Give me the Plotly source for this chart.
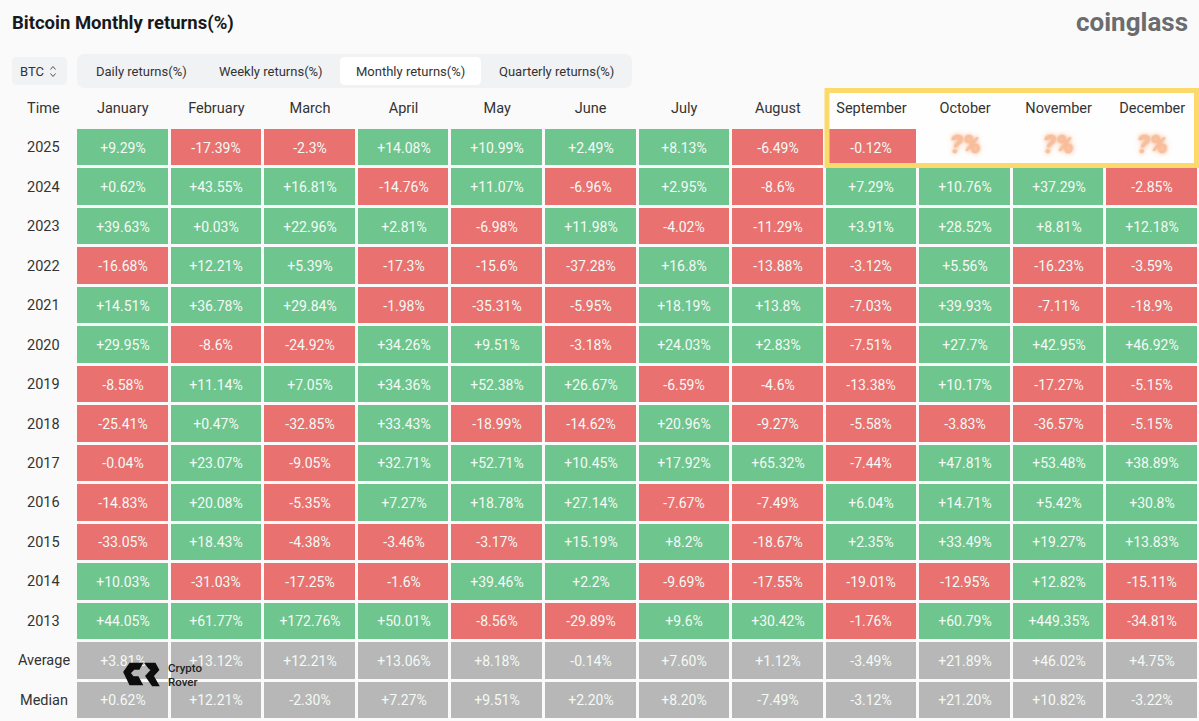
import plotly.graph_objects as go

TITLE = "Bitcoin Monthly returns(%)"
MONTHS = ["January", "February", "March", "April", "May", "June", "July", "August",
          "September", "October", "November", "December"]
ROW_LABELS = ["2025", "2024", "2023", "2022", "2021", "2020", "2019", "2018", "2017",
              "2016", "2015", "2014", "2013", "Average", "Median"]
TABS = ["Daily returns(%)", "Weekly returns(%)", "Monthly returns(%)", "Quarterly returns(%)"]

R2025 = ["+9.29%", "-17.39%", "-2.3%", "+14.08%", "+10.99%", "+2.49%", "+8.13%", "-6.49%", "-0.12%", "", "", ""]
R2024 = ["+0.62%", "+43.55%", "+16.81%", "-14.76%", "+11.07%", "-6.96%", "+2.95%", "-8.6%", "+7.29%", "+10.76%", "+37.29%", "-2.85%"]
R2023 = ["+39.63%", "+0.03%", "+22.96%", "+2.81%", "-6.98%", "+11.98%", "-4.02%", "-11.29%", "+3.91%", "+28.52%", "+8.81%", "+12.18%"]
R2022 = ["-16.68%", "+12.21%", "+5.39%", "-17.3%", "-15.6%", "-37.28%", "+16.8%", "-13.88%", "-3.12%", "+5.56%", "-16.23%", "-3.59%"]
R2021 = ["+14.51%", "+36.78%", "+29.84%", "-1.98%", "-35.31%", "-5.95%", "+18.19%", "+13.8%", "-7.03%", "+39.93%", "-7.11%", "-18.9%"]
R2020 = ["+29.95%", "-8.6%", "-24.92%", "+34.26%", "+9.51%", "-3.18%", "+24.03%", "+2.83%", "-7.51%", "+27.7%", "+42.95%", "+46.92%"]
R2019 = ["-8.58%", "+11.14%", "+7.05%", "+34.36%", "+52.38%", "+26.67%", "-6.59%", "-4.6%", "-13.38%", "+10.17%", "-17.27%", "-5.15%"]
R2018 = ["-25.41%", "+0.47%", "-32.85%", "+33.43%", "-18.99%", "-14.62%", "+20.96%", "-9.27%", "-5.58%", "-3.83%", "-36.57%", "-5.15%"]
R2017 = ["-0.04%", "+23.07%", "-9.05%", "+32.71%", "+52.71%", "+10.45%", "+17.92%", "+65.32%", "-7.44%", "+47.81%", "+53.48%", "+38.89%"]
R2016 = ["-14.83%", "+20.08%", "-5.35%", "+7.27%", "+18.78%", "+27.14%", "-7.67%", "-7.49%", "+6.04%", "+14.71%", "+5.42%", "+30.8%"]
R2015 = ["-33.05%", "+18.43%", "-4.38%", "-3.46%", "-3.17%", "+15.19%", "+8.2%", "-18.67%", "+2.35%", "+33.49%", "+19.27%", "+13.83%"]
R2014 = ["+10.03%", "-31.03%", "-17.25%", "-1.6%", "+39.46%", "+2.2%", "-9.69%", "-17.55%", "-19.01%", "-12.95%", "+12.82%", "-15.11%"]
R2013 = ["+44.05%", "+61.77%", "+172.76%", "+50.01%", "-8.56%", "-29.89%", "+9.6%", "+30.42%", "-1.76%", "+60.79%", "+449.35%", "-34.81%"]
AVERAGE = ["+3.81%", "+13.12%", "+12.21%", "+13.06%", "+8.18%", "-0.14%", "+7.60%", "+1.12%", "-3.49%", "+21.89%", "+46.02%", "+4.75%"]
MEDIAN = ["+0.62%", "+12.21%", "-2.30%", "+7.27%", "+9.51%", "+2.20%", "+8.20%", "-7.49%", "-3.12%", "+21.20%", "+10.82%", "-3.22%"]
ROWS = [R2025, R2024, R2023, R2022, R2021, R2020, R2019, R2018, R2017, R2016, R2015, R2014, R2013, AVERAGE, MEDIAN]

GREEN, RED, GRAY = "#6fc58e", "#e9716f", "#b7b7b7"
BG = "#fafafa"
FONT = "Roboto"
W, H = 1199, 721
L, T, B = 76, 128, 1

# page pixels to paper coords, for the furniture around the table
def fx(px):
  return (px - L) / (W - L)

def fy(py):
  return 1 - (py - T) / (H - T - B)

def cell_code(label, row_name):
  if not label:
    return None
  if row_name in ("Average", "Median"):
    return 0
  return 2 if label.startswith("+") else 1

z = [[cell_code(v, name) for v in row] for row, name in zip(ROWS, ROW_LABELS)]

def rounded(x0, y0, x1, y1, r):
  a0, a1 = fx(x0), fx(x1)
  b0, b1 = fy(y0), fy(y1)
  rx, ry = r / (W - L), r / (H - T - B)
  return (f"M{a0 + rx},{b0} L{a1 - rx},{b0} Q{a1},{b0} {a1},{b0 - ry} L{a1},{b1 + ry} Q{a1},{b1} {a1 - rx},{b1} "
          f"L{a0 + rx},{b1} Q{a0},{b1} {a0},{b1 + ry} L{a0},{b0 - ry} Q{a0},{b0} {a0 + rx},{b0} Z")

def poly(points, close=True):
  path = "M" + " L".join(f"{fx(x)},{fy(y)}" for x, y in points)
  return path + (" Z" if close else "")

def label(text, px, py, size=14, color="#333", anchor="center", **font_kw):
  return dict(text=text, x=fx(px), y=fy(py), xref="paper", yref="paper", showarrow=False,
              xanchor=anchor, yanchor="middle", font=dict(family=FONT, size=size, color=color, **font_kw))

fig = go.Figure(go.Heatmap(
  z=z, x=MONTHS, y=ROW_LABELS, text=ROWS, texttemplate="%{text}",
  textfont=dict(family=FONT, size=14, color="#f4faf6"),
  colorscale=[[0, GRAY], [0.33, GRAY], [0.33, RED], [0.66, RED], [0.66, GREEN], [1, GREEN]],
  zmin=0, zmax=2, showscale=False, xgap=3, ygap=3, hoverinfo="skip",
))

shapes = [
  dict(type="rect", xref="paper", yref="paper", x0=fx(827), x1=fx(1196.5), y0=fy(90.5), y1=fy(165.5),
       fillcolor="#fefefe", line_width=0, layer="below"),
  dict(type="path", xref="paper", yref="paper", path=rounded(77, 54, 632, 88, 8), fillcolor="#f1f2f4", line_width=0, layer="below"),
  dict(type="path", xref="paper", yref="paper", path=rounded(340, 57, 481, 85, 5), fillcolor="#ffffff", line_width=0, layer="below"),
  dict(type="path", xref="paper", yref="paper", path=rounded(12, 57, 67, 85, 5), fillcolor="#f1f2f4", line_width=0, layer="below"),
  dict(type="rect", xref="paper", yref="paper", x0=fx(827), x1=fx(1196.5), y0=fy(90.5), y1=fy(165.5),
       fillcolor="rgba(0,0,0,0)", line=dict(color="#fbd96a", width=5)),
  # BTC selector chevrons
  dict(type="path", xref="paper", yref="paper", path=poly([(50.5, 69.5), (53, 66.5), (55.5, 69.5)], close=False),
       line=dict(color="#555", width=1)),
  dict(type="path", xref="paper", yref="paper", path=poly([(50.5, 73.5), (53, 76.5), (55.5, 73.5)], close=False),
       line=dict(color="#555", width=1)),
  # Crypto Rover mark
  dict(type="path", xref="paper", yref="paper", line=dict(color="#0d0d0d", width=1.5), fillcolor="#0d0d0d",
       path=poly([(142, 663.5), (130, 663.5), (124, 672), (130, 684.5), (142, 684.5), (138, 677),
                  (133, 677), (130, 673), (134, 669), (139, 669)])),
  dict(type="path", xref="paper", yref="paper", line=dict(color="#0d0d0d", width=1.5), fillcolor="#0d0d0d",
       path=poly([(145.5, 663.5), (155, 663.5), (158.5, 670), (153, 676), (158.5, 685.5), (152.5, 685.5),
                  (146, 676), (151.5, 670), (149, 668)])),
]

annotations = [
  label(TITLE, 10, 23, size=18.5, color="#17191c", anchor="left", weight=700),
  label("coinglass", 1132, 22, size=26, color="#6a6c6e", weight=700),
  label("BTC", 32, 71, size=13),
  label("Time", 43, 108, size=14.5),
  label("Crypto", 166, 668, size=11.5, color="#222", anchor="left", weight=500),
  label("Rover", 166, 682, size=11.5, color="#222", anchor="left", weight=500),
]
for name, cx in zip(TABS, [141, 271, 410, 556]):
  annotations.append(label(name, cx, 71, size=13))
# row index, not the name: a year string would be read as a position on the category axis
for i, name in enumerate(ROW_LABELS):
  annotations.append(dict(text=name, x=fx(43.5), xref="paper", xanchor="center", y=i, yref="y", showarrow=False,
                          font=dict(family=FONT, size=14.5, color="#333")))
for month in MONTHS[9:]:
  annotations.append(dict(text="<b>?%</b>", x=month, xref="x", y=0, yref="y", yshift=4, showarrow=False,
                          font=dict(family=FONT, size=26, color="#f9bf9c", style="italic",
                                    shadow="0 0 3px #f5a57a, 0 0 6px #f9c4a0")))

fig.update_layout(
  width=W, height=H, autosize=False,
  margin=dict(l=L, r=0, t=T, b=B),
  paper_bgcolor=BG, plot_bgcolor="rgba(0,0,0,0)",
  shapes=shapes, annotations=annotations,
  xaxis=dict(type="category", side="top", tickfont=dict(family=FONT, size=14.5, color="#333"), ticks="outside",
             ticklen=8, tickcolor="rgba(0,0,0,0)", showgrid=False, zeroline=False, showline=False),
  yaxis=dict(type="category", range=[len(ROW_LABELS) - 0.5, -0.5], showticklabels=False, ticks="", showgrid=False,
             zeroline=False, showline=False),
)

fig.write_html("out.html", config=dict(displayModeBar=False),
               post_script="document.body.style.margin='0';document.body.style.background='#fafafa';")
